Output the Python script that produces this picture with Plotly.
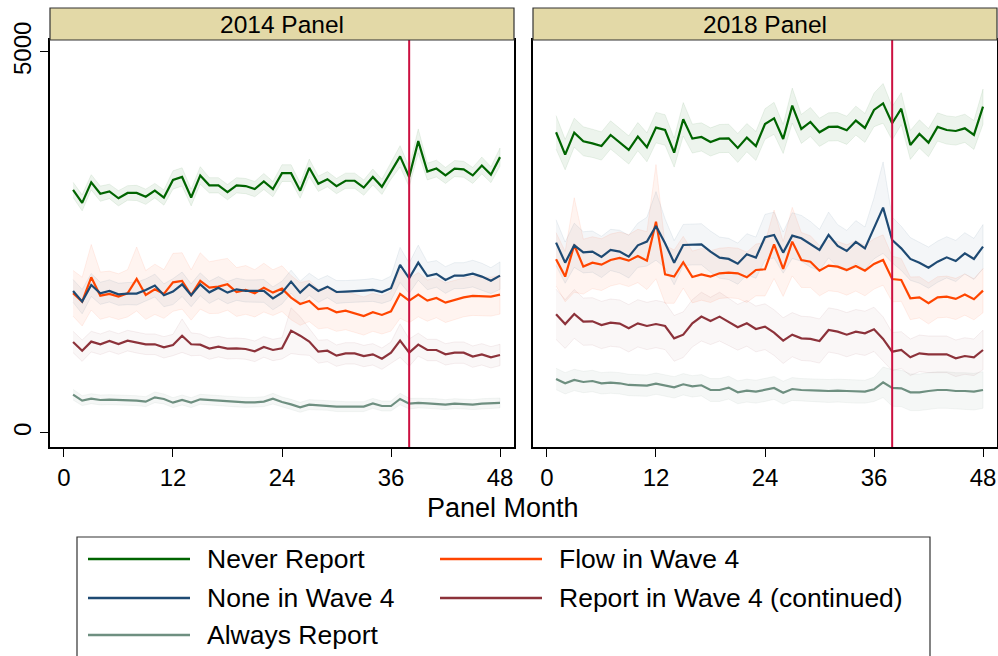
import plotly.graph_objects as go

W, H = 998, 656
months = list(range(1, 49))

# ---- 2014 Panel ----
never14 = [3190,3020,3290,3140,3170,3080,3150,3150,3100,3180,3090,3320,3360,3090,3380,3250,3250,3160,3250,3240,3200,3300,3200,3410,3410,3180,3480,3270,3330,3240,3310,3310,3220,3360,3230,3440,3630,3360,3830,3430,3470,3380,3470,3460,3380,3510,3390,3620]
none14 = [1864,1724,1942,1833,1864,1820,1829,1829,1877,1934,1807,1855,1951,1807,1951,1846,1907,1842,1885,1864,1864,1864,1767,1842,1986,1842,1951,1864,1920,1850,1855,1859,1868,1877,1850,1899,2205,2030,2235,2060,2087,2008,2065,2065,2091,2052,1999,2065]
flow14 = [1833,1724,2043,1802,1824,1789,1833,2021,1811,1885,1824,1977,1995,1811,1995,1907,1920,1951,1850,1877,1833,1907,1842,1894,1776,1693,1732,1627,1640,1584,1605,1570,1535,1584,1549,1597,1824,1737,1815,1737,1772,1710,1745,1780,1798,1798,1789,1815]
report14 = [1194,1080,1199,1164,1207,1168,1212,1185,1164,1164,1124,1155,1277,1164,1159,1107,1133,1107,1111,1102,1072,1129,1089,1111,1343,1277,1199,1067,1080,1015,1045,1045,1010,1032,975,1054,1212,1054,1159,1089,1089,1032,1054,1054,1002,1032,993,1024]
always14 = [503,424,450,433,437,433,429,424,411,468,446,398,433,398,442,433,424,416,407,402,402,411,450,407,376,337,372,363,363,346,346,346,346,389,354,354,446,385,394,389,385,372,385,381,372,385,385,394]

ci_never14 = [100,105,100,100,95,100,95,100,100,95,100,120,120,110,115,100,100,100,100,100,100,105,100,110,110,100,115,100,100,100,100,100,100,105,100,110,140,130,160,110,110,105,105,105,105,110,105,120]
ci_none14 = [150,160,150,145,145,145,145,150,145,150,150,170,160,150,150,145,145,145,145,145,145,150,150,150,150,150,145,150,145,150,145,145,145,150,150,160,230,200,230,180,175,175,170,170,175,175,170,180]
ci_flow14 = [300,320,430,310,300,300,310,420,320,330,320,380,370,330,370,340,350,340,320,320,310,320,300,300,290,280,270,260,260,250,250,250,250,250,250,260,320,290,290,270,260,260,260,255,255,255,255,255]
ci_report14 = [140,140,135,135,135,135,135,135,135,135,140,140,220,150,140,140,135,135,135,135,135,135,140,140,300,250,180,150,145,140,140,140,140,140,140,140,220,180,150,140,140,140,140,140,140,140,140,140]
ci_always14 = [70,65,65,65,65,65,65,65,65,70,65,65,65,65,65,65,65,65,65,65,65,65,70,65,65,65,65,65,65,65,65,65,65,65,65,65,75,70,65,65,65,65,65,65,65,65,65,65]

# ---- 2018 Panel ----
never18 = [3946,3653,3941,3828,3801,3766,3911,3810,3714,3889,3749,4007,3976,3679,4116,3863,3885,3819,3863,3867,3740,3876,3766,4055,4129,3858,4296,3990,4081,3946,4016,4020,3972,4099,4003,4239,4326,4064,4256,3780,3924,3810,4016,3976,3963,3998,3911,4283]
none18 = [2498,2235,2463,2371,2380,2310,2402,2380,2314,2463,2511,2717,2489,2235,2467,2476,2476,2380,2301,2284,2222,2345,2301,2568,2598,2367,2590,2555,2476,2402,2598,2454,2388,2507,2423,2686,2957,2533,2423,2284,2235,2170,2248,2305,2257,2358,2284,2445]
flow18 = [2279,2052,2467,2183,2235,2209,2270,2297,2262,2323,2262,2773,2082,2052,2240,2047,2082,2052,2095,2104,2095,2043,2139,2148,2476,2152,2511,2270,2248,2130,2196,2183,2139,2192,2130,2218,2270,2021,2008,1767,1780,1702,1780,1789,1759,1816,1755,1868]
report18 = [1557,1430,1562,1461,1465,1417,1448,1435,1374,1439,1404,1430,1404,1242,1290,1439,1527,1470,1527,1452,1387,1439,1365,1395,1317,1212,1290,1242,1234,1207,1352,1330,1290,1330,1308,1360,1234,1067,1089,993,1045,1032,1032,1032,980,1010,993,1089]
always18 = [709,652,696,669,682,652,661,652,630,630,621,647,621,599,639,612,626,564,564,595,534,556,542,564,591,529,577,564,564,556,551,556,551,542,542,573,665,591,586,534,534,551,564,564,551,551,542,564]

ci_never18 = [220,200,190,190,185,185,185,185,185,185,190,200,200,190,220,190,185,185,185,185,190,185,190,200,210,190,230,190,190,185,185,185,185,190,190,220,260,220,210,190,185,185,185,185,185,185,190,230]
ci_none18 = [300,270,290,270,270,270,270,280,280,290,320,450,320,290,270,270,270,270,270,270,270,270,270,300,300,270,300,300,300,270,300,280,270,280,280,400,600,300,290,280,270,270,270,270,270,270,270,290]
ci_flow18 = [350,330,620,360,340,340,340,340,340,350,380,750,380,350,340,340,340,340,330,330,330,330,340,350,450,360,450,360,340,330,330,330,330,330,330,330,330,300,280,280,270,270,270,270,270,270,270,290]
ci_report18 = [330,320,320,310,310,310,310,310,310,310,310,310,310,300,300,310,320,310,320,310,300,300,300,300,300,300,290,290,290,290,290,290,290,290,290,290,290,250,240,240,240,240,240,240,240,240,240,260]
ci_always18 = [140,140,140,140,140,140,140,140,140,140,140,140,140,140,140,140,140,150,150,150,150,150,150,150,150,150,150,150,150,150,150,150,150,150,150,160,200,240,240,240,240,240,240,240,240,240,240,240]

panel_titles = ["2014 Panel", "2018 Panel"]
series_rgb = {
    "Never Report": (0, 100, 0),
    "None in Wave 4": (30, 74, 115),
    "Always Report": (110, 143, 128),
    "Flow in Wave 4": (255, 69, 0),
    "Report in Wave 4 (continued)": (140, 50, 58),
}
band_alpha = {
    "Never Report": 0.07,
    "None in Wave 4": 0.05,
    "Always Report": 0.07,
    "Flow in Wave 4": 0.06,
    "Report in Wave 4 (continued)": 0.04,
}
xticks = [0, 12, 24, 36, 48]
yticks = [0, 5000]
vline_month = 38

panels = [
    {"Never Report": (never14, ci_never14), "None in Wave 4": (none14, ci_none14),
     "Flow in Wave 4": (flow14, ci_flow14), "Report in Wave 4 (continued)": (report14, ci_report14),
     "Always Report": (always14, ci_always14)},
    {"Never Report": (never18, ci_never18), "None in Wave 4": (none18, ci_none18),
     "Flow in Wave 4": (flow18, ci_flow18), "Report in Wave 4 (continued)": (report18, ci_report18),
     "Always Report": (always18, ci_always18)},
]
draw_order = ["Always Report", "Report in Wave 4 (continued)", "Flow in Wave 4", "None in Wave 4", "Never Report"]

FONT = "Arial, Liberation Sans, sans-serif"
fig = go.Figure()

def rgba(c, a):
    return f"rgba({c[0]},{c[1]},{c[2]},{a})"

for pi, pdata in enumerate(panels):
    xa = "x" if pi == 0 else "x2"
    ya = "y" if pi == 0 else "y2"
    for name in draw_order:
        vals, ci = pdata[name]
        up = [v + c for v, c in zip(vals, ci)]
        lo = [v - c for v, c in zip(vals, ci)]
        c = series_rgb[name]
        fig.add_trace(go.Scatter(
            x=months + months[::-1], y=up + lo[::-1], fill="toself",
            fillcolor=rgba(c, band_alpha[name]), line=dict(color=rgba(c, 0.08), width=1),
            mode="lines", hoverinfo="skip", showlegend=False, xaxis=xa, yaxis=ya))
    for name in draw_order:
        vals, ci = pdata[name]
        c = series_rgb[name]
        fig.add_trace(go.Scatter(
            x=months, y=vals, mode="lines", name=name,
            line=dict(color=rgba(c, 1), width=2.2), showlegend=False, xaxis=xa, yaxis=ya))

xl0, xl1 = 50 / W, 514 / W
xr0, xr1 = 533 / W, 997 / W
yb, yt = 1 - 447 / H, 1 - 40 / H
xrange = [-1.54, 49.54]
yrange = [-184, 5157]

axis_common = dict(showgrid=False, zeroline=False, showline=True, mirror=True,
                   linecolor="black", linewidth=1.5, ticks="outside", ticklen=8,
                   tickcolor="black", tickwidth=1.2, automargin=False,
                   tickfont=dict(family=FONT, size=24, color="black"))

fig.update_layout(
    width=W, height=H, margin=dict(l=0, r=0, t=0, b=0),
    paper_bgcolor="white", plot_bgcolor="white", showlegend=False,
    xaxis=dict(domain=[xl0, xl1], range=xrange, tickvals=xticks, anchor="y", **axis_common),
    xaxis2=dict(domain=[xr0, xr1], range=xrange, tickvals=xticks, anchor="y2", **axis_common),
    yaxis=dict(domain=[yb, yt], range=yrange, tickvals=yticks, tickangle=-90, anchor="x", **axis_common),
    yaxis2=dict(domain=[yb, yt], range=yrange, tickvals=yticks, anchor="x2",
                **{**axis_common, "ticks": "", "showticklabels": False}),
)

# vertical reference line
for xa, ya in [("x", "y"), ("x2", "y2")]:
    fig.add_shape(type="line", xref=xa, yref=f"{ya} domain", x0=vline_month, x1=vline_month,
                  y0=0, y1=1, line=dict(color="#cc1040", width=2))

# strips
s_b, s_t = 1 - 40 / H, 1 - 8 / H
for (x0, x1), title in zip([(xl0, xl1), (xr0, xr1)], panel_titles):
    fig.add_shape(type="rect", xref="paper", yref="paper", x0=x0, x1=x1, y0=s_b, y1=s_t,
                  fillcolor="#e3d9a7", line=dict(color="#333333", width=1.2))
    fig.add_annotation(x=(x0 + x1) / 2, y=(s_b + s_t) / 2, xref="paper", yref="paper",
                       text=title, showarrow=False, xanchor="center", yanchor="middle",
                       font=dict(family=FONT, size=24.5, color="black"))

# x axis title
fig.add_annotation(x=503 / W, y=1 - 508 / H, xref="paper", yref="paper", text="Panel Month",
                   showarrow=False, xanchor="center", yanchor="middle",
                   font=dict(family=FONT, size=27, color="black"))

# manual legend
fig.add_shape(type="rect", xref="paper", yref="paper", x0=77 / W, x1=930 / W,
              y0=-0.02, y1=1 - 537 / H, fillcolor="white", line=dict(color="#333333", width=1.2))
legend_layout = [
    ("Never Report", 88, 205, 559), ("None in Wave 4", 88, 205, 598), ("Always Report", 88, 205, 635),
    ("Flow in Wave 4", 440, 557, 559), ("Report in Wave 4 (continued)", 440, 557, 598),
]
for name, lx, tx, ly in legend_layout:
    c = series_rgb[name]
    fig.add_shape(type="line", xref="paper", yref="paper", x0=lx / W, x1=(lx + 102) / W,
                  y0=1 - ly / H, y1=1 - ly / H, line=dict(color=rgba(c, 1), width=2.5))
    fig.add_annotation(x=tx / W, y=1 - ly / H, xref="paper", yref="paper", text=name,
                       showarrow=False, xanchor="left", yanchor="middle",
                       font=dict(family=FONT, size=26.5, color="black"))

fig.write_html("out.html")
